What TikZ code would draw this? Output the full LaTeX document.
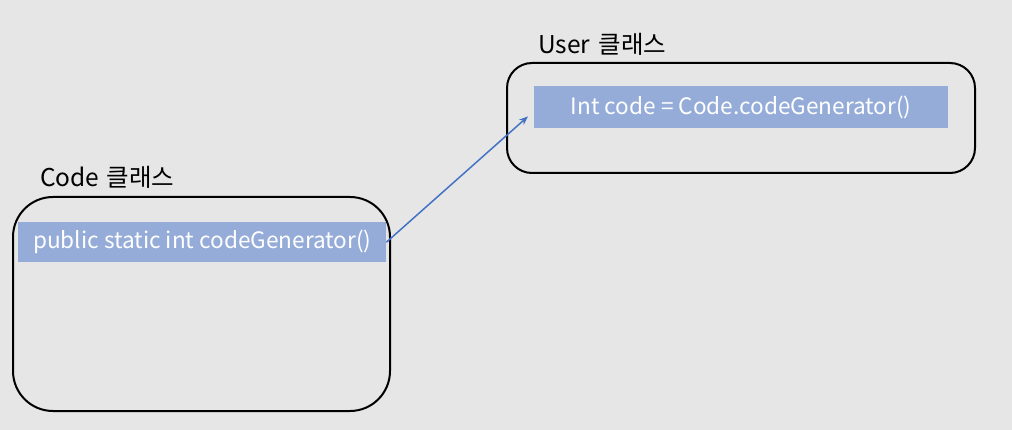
\documentclass[tikz,border=0pt]{standalone}
\usepackage{fontspec}
\setmainfont{Noto Sans CJK KR}
\usetikzlibrary{arrows.meta,positioning}
\definecolor{bgray}{HTML}{E6E6E6}
\definecolor{barblue}{HTML}{95ACD9}
\definecolor{linkblue}{HTML}{4472C4}

\begin{document}
\begin{tikzpicture}[
  x=1pt,y=-1pt,
  classbox/.style={
    draw=black,
    line width=2pt,
    inner sep=0pt
  },
  bar/.style={
    fill=barblue,
    text=white,
    inner sep=0pt,
    font=\fontsize{22.6}{26}\selectfont
  },
  title/.style={
    anchor=west,
    inner sep=0pt,
    font=\fontsize{24.5}{28}\selectfont
  },
  arrow/.style={-{Stealth[length=9pt,width=7pt]},draw=linkblue,line width=1.5pt}
]

  \fill[bgray] (0,0) rectangle (1012,430);
  \useasboundingbox (0,0) rectangle (1012,430);

  % Code class
  \draw[classbox,rounded corners=40pt] (13,197) rectangle (390,411);
  \node[title] (codetitle) at (40,177) {Code\hspace{0.3em}클래스};
  \node[bar,minimum width=368pt,minimum height=40pt,anchor=north west]
    (codebar) at (18,222) {};
  \node[anchor=west,text=white,inner sep=0pt,font=\fontsize{22.6}{26}\selectfont]
    (codetext) at ([xshift=15pt]codebar.west) {public static int codeGenerator()};

  % User class
  \draw[classbox,rounded corners=25pt] (507,63) rectangle (975,173);
  \node[title] (usertitle) at (538,44) {User\hspace{0.35em}클래스};
  \node[bar,minimum width=414pt,minimum height=42pt,anchor=north west]
    (userbar) at (534,86) {Int code = Code.codeGenerator()};

  \coordinate (tip) at ([xshift=-6pt,yshift=12pt]userbar.south west);
  \draw[arrow] (codebar.east) -- (tip);

\end{tikzpicture}
\end{document}
